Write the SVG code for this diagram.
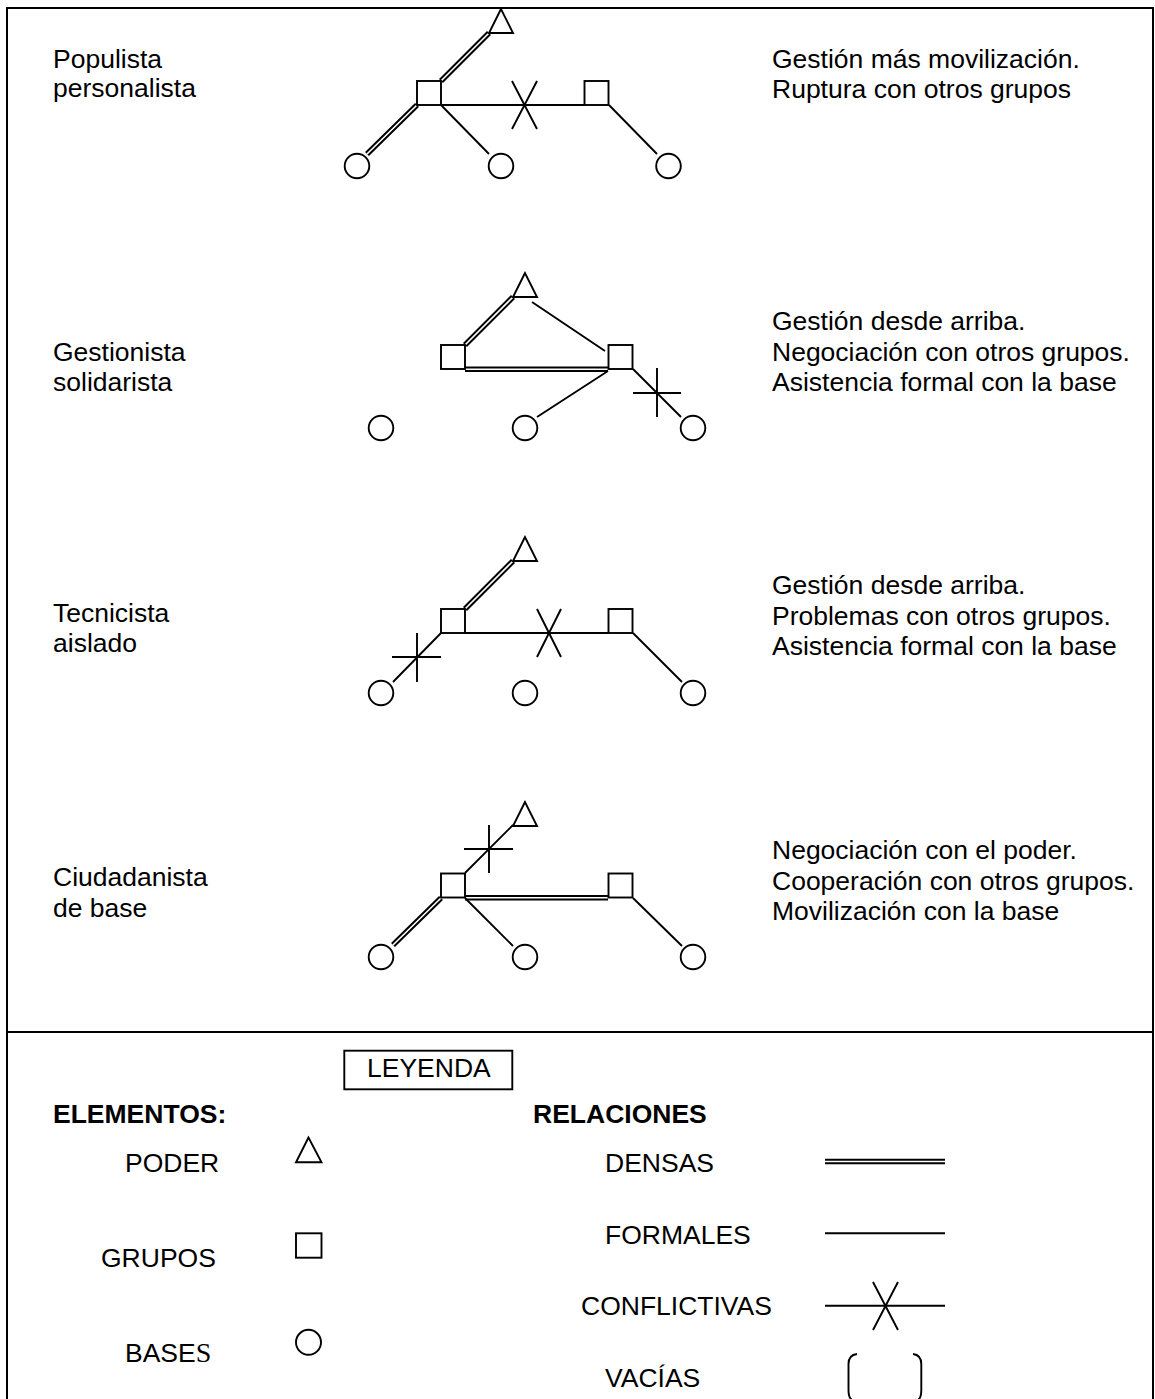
<svg xmlns="http://www.w3.org/2000/svg" width="1155" height="1399" viewBox="0 0 1155 1399">
<style>
text{font-family:"Liberation Sans",Arial,sans-serif;font-size:26.5px;fill:#000}
.b{font-weight:bold}
.ln{stroke:#000;stroke-width:1.9;fill:none}
.dn{stroke:#000;stroke-width:5.6;fill:none}
.dw{stroke:#fff;stroke-width:1.6;fill:none}
.nd{fill:#fff;stroke:#000;stroke-width:1.9}
.frame{stroke:#000;stroke-width:2;fill:none}
</style>
<rect width="1155" height="1399" fill="#fff"/>
<path class="frame" d="M7,1399 V8 H1153 V1399 M7,1032 H1153"/>

<g id="connectors">
  <!-- diagram 1 -->
  <path class="dn" d="M441,81 L489,33 M417,105 L367,154"/>
  <path class="dw" d="M441,81 L489,33 M417,105 L367,154"/>
  <path class="ln" d="M441,105 H584 M512,81 L537,129 M537,81 L512,129 M441,105 L489,154 M609,105 L657,154"/>
  <!-- diagram 2 -->
  <path class="dn" d="M465,345 L513,297 M465,369.3 H608"/>
  <path class="dw" d="M465,345 L513,297 M465,369.3 H608"/>
  <path class="ln" d="M532,302 L605,351 M608,371 L537,417 M633,369 L681,417 M633,393 H681 M657,368 V417"/>
  <!-- diagram 3 -->
  <path class="dn" d="M465,609 L513,561"/>
  <path class="dw" d="M465,609 L513,561"/>
  <path class="ln" d="M465,633 H608 M537,609 L561,657 M561,609 L537,657 M441,633 L393,682 M392,657 H441 M417,633 V682 M633,633 L682,682"/>
  <!-- diagram 4 -->
  <path class="dn" d="M465,897.7 H608 M441,898 L393,945"/>
  <path class="dw" d="M465,897.7 H608 M441,898 L393,945"/>
  <path class="ln" d="M465,873 L513,825 M464,849 H513 M489,825 V873 M465,898 L513,946 M633,898 L682,946"/>
</g>

<g id="d1-poder"><polygon class="nd" points="501,9 489,33 513,33"/></g>
<g id="d1-grupo1"><rect class="nd" x="417" y="81" width="24" height="24"/></g>
<g id="d1-grupo2"><rect class="nd" x="584.5" y="81" width="24" height="24"/></g>
<g id="d1-base1"><circle class="nd" cx="357" cy="166" r="12.3"/></g>
<g id="d1-base2"><circle class="nd" cx="501" cy="166" r="12.3"/></g>
<g id="d1-base3"><circle class="nd" cx="668.5" cy="166" r="12.3"/></g>

<g id="d2-poder"><polygon class="nd" points="525,273 513,297 537,297"/></g>
<g id="d2-grupo1"><rect class="nd" x="441" y="345" width="24" height="24"/></g>
<g id="d2-grupo2"><rect class="nd" x="608.5" y="345" width="24" height="24"/></g>
<g id="d2-base1"><circle class="nd" cx="381" cy="428" r="12.3"/></g>
<g id="d2-base2"><circle class="nd" cx="525" cy="428" r="12.3"/></g>
<g id="d2-base3"><circle class="nd" cx="693" cy="428" r="12.3"/></g>

<g id="d3-poder"><polygon class="nd" points="525,537 513,561 537,561"/></g>
<g id="d3-grupo1"><rect class="nd" x="441" y="609" width="24" height="24"/></g>
<g id="d3-grupo2"><rect class="nd" x="608.5" y="609" width="24" height="24"/></g>
<g id="d3-base1"><circle class="nd" cx="381" cy="693" r="12.3"/></g>
<g id="d3-base2"><circle class="nd" cx="525" cy="693" r="12.3"/></g>
<g id="d3-base3"><circle class="nd" cx="693" cy="693" r="12.3"/></g>

<g id="d4-poder"><polygon class="nd" points="525,802 513,826 537,826"/></g>
<g id="d4-grupo1"><rect class="nd" x="441" y="873.5" width="24" height="24"/></g>
<g id="d4-grupo2"><rect class="nd" x="608.5" y="873.5" width="24" height="24"/></g>
<g id="d4-base1"><circle class="nd" cx="381" cy="957" r="12.3"/></g>
<g id="d4-base2"><circle class="nd" cx="525" cy="957" r="12.3"/></g>
<g id="d4-base3"><circle class="nd" cx="693" cy="957" r="12.3"/></g>

<g id="labels-left">
  <text x="53" y="68">Populista</text>
  <text x="53" y="97">personalista</text>
  <text x="53" y="361">Gestionista</text>
  <text x="53" y="391">solidarista</text>
  <text x="53" y="622">Tecnicista</text>
  <text x="53" y="652">aislado</text>
  <text x="53" y="886">Ciudadanista</text>
  <text x="53" y="917">de base</text>
</g>

<g id="labels-right">
  <text x="772" y="68">Gestión más movilización.</text>
  <text x="772" y="98">Ruptura con otros grupos</text>
  <text x="772" y="330">Gestión desde arriba.</text>
  <text x="772" y="361">Negociación con otros grupos.</text>
  <text x="772" y="391">Asistencia formal con la base</text>
  <text x="772" y="594">Gestión desde arriba.</text>
  <text x="772" y="625">Problemas con otros grupos.</text>
  <text x="772" y="655">Asistencia formal con la base</text>
  <text x="772" y="859">Negociación con el poder.</text>
  <text x="772" y="890">Cooperación con otros grupos.</text>
  <text x="772" y="920">Movilización con la base</text>
</g>

<g id="legend">
  <rect class="ln" x="344.3" y="1050.7" width="168" height="38.6"/>
  <text x="367" y="1077">LEYENDA</text>
  <text class="b" x="53" y="1123">ELEMENTOS:</text>
  <text class="b" x="533" y="1123">RELACIONES</text>
  <text x="125" y="1172">PODER</text>
  <text x="101" y="1267">GRUPOS</text>
  <text x="125" y="1362">BASE<tspan style="font-family:'Liberation Serif',serif;font-size:28px">S</tspan></text>
  <polygon class="nd" points="308.5,1137.5 296,1162.3 321.5,1162.3"/>
  <rect class="nd" x="296" y="1233.3" width="25.5" height="24.4"/>
  <circle class="nd" cx="308.5" cy="1342.3" r="12.5"/>
  <text x="605" y="1172">DENSAS</text>
  <text x="605" y="1244">FORMALES</text>
  <text x="581" y="1315">CONFLICTIVAS</text>
  <text x="605" y="1387">VACÍAS</text>
  <path class="dn" d="M825,1161.5 H945"/>
  <path class="dw" d="M825,1161.5 H945"/>
  <path class="ln" d="M825,1233.3 H945 M825,1305.7 H945 M873,1282 L898,1330 M898,1282 L873,1330"/>
  <path class="ln" d="M857,1354 Q848.5,1355 848.5,1364 V1390 Q848.5,1398 852,1400 M913,1354 Q921.3,1355 921.3,1364 V1390 Q921.3,1398 918,1400"/>
</g>
</svg>
